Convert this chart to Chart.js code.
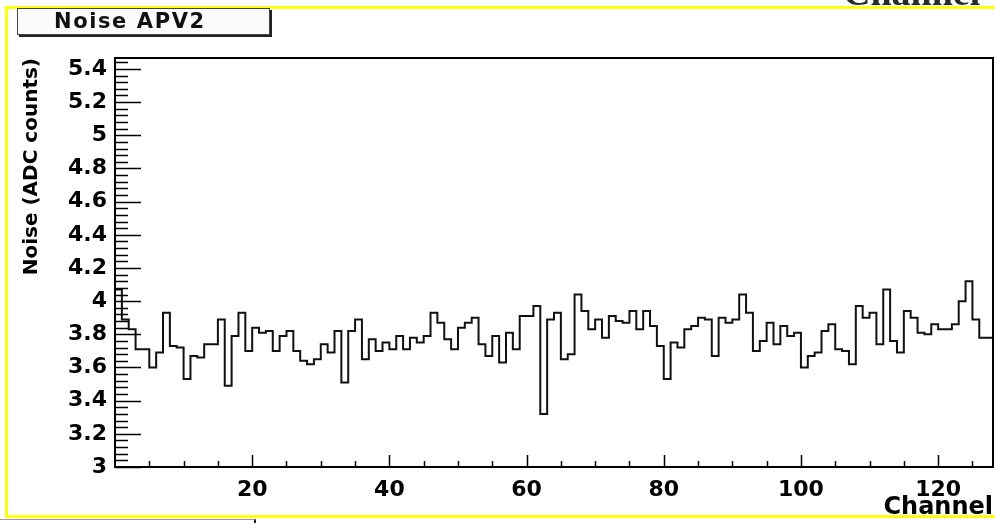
<!DOCTYPE html>
<html>
<head>
<meta charset="utf-8">
<script src="https://cdn.jsdelivr.net/npm/chart.js@4.4.0/dist/chart.umd.min.js"></script>
<style>
  html, body { margin: 0; padding: 0; background: #fff; }
  #wrap { position: relative; width: 995px; height: 523px; overflow: hidden; background: #fff; }
  #graph { position: absolute; left: 0; top: 0; }
  .yellow { position: absolute; background: #ffff10; }
  #topname {
    position: absolute; left: 843px; top: -27px;
    font: bold 38px "Liberation Serif", serif; line-height: 38px; color: #2a2a2a;
  }
  #titlebox {
    position: absolute; left: 17px; top: 8px; width: 251px; height: 25px;
    background: #fbfbfb; border: 1px solid #444; box-shadow: 2px 2px 0 #222;
  }
  #titlebox span {
    position: absolute; left: 36px; top: 0px;
    font: bold 21px "DejaVu Sans", sans-serif; letter-spacing: 1.6px; color: #111; line-height: 25px;
  }
  #statbox {
    position: absolute; left: 0; top: 519px; width: 254px; height: 10px;
    border-top: 1px solid #999; border-right: 2px solid #222;
  }
</style>
</head>
<body>
<div id="wrap">
  <canvas id="graph" width="995" height="523"></canvas>
  <div id="topname">Channel</div>
  <div class="yellow" style="left:5px; top:6px; width:990px; height:3px;"></div>
  <div class="yellow" style="left:5px; top:6px; width:3px; height:512px;"></div>
  <div class="yellow" style="left:5px; top:515px; width:990px; height:3px;"></div>
  <div id="titlebox"><span>Noise APV2</span></div>
  <div id="statbox"></div>
</div>
<script>
// noise per channel, 128 bins (channel 0..127)
const noise = [
  4.07, 3.89, 3.83, 3.71, 3.71, 3.60, 3.69, 3.93, 3.73, 3.72,
  3.53, 3.67, 3.66, 3.74, 3.74, 3.89, 3.49, 3.79, 3.93, 3.70,
  3.84, 3.81, 3.82, 3.70, 3.79, 3.82, 3.70, 3.64, 3.62, 3.65,
  3.74, 3.69, 3.82, 3.51, 3.82, 3.89, 3.65, 3.77, 3.70, 3.75,
  3.71, 3.79, 3.71, 3.78, 3.75, 3.79, 3.93, 3.87, 3.77, 3.71,
  3.84, 3.87, 3.90, 3.74, 3.67, 3.79, 3.63, 3.81, 3.71, 3.91,
  3.91, 3.97, 3.32, 3.89, 3.93, 3.65, 3.68, 4.04, 3.94, 3.83,
  3.89, 3.78, 3.91, 3.88, 3.87, 3.94, 3.83, 3.94, 3.85, 3.73,
  3.53, 3.75, 3.72, 3.83, 3.85, 3.90, 3.89, 3.67, 3.90, 3.87,
  3.89, 4.04, 3.93, 3.70, 3.76, 3.87, 3.74, 3.85, 3.79, 3.81,
  3.60, 3.67, 3.69, 3.82, 3.86, 3.71, 3.70, 3.62, 3.97, 3.90,
  3.93, 3.74, 4.07, 3.76, 3.69, 3.94, 3.90, 3.81, 3.80, 3.86,
  3.83, 3.83, 3.86, 4.00, 4.12, 3.89, 3.78, 3.78
];
const xTicks = [20, 40, 60, 80, 100, 120];
const yTicks = [3, 3.2, 3.4, 3.6, 3.8, 4, 4.2, 4.4, 4.6, 4.8, 5, 5.2, 5.4];
const xRange = [0, 128];
const yRange = [3, 5.466];

// histogram steps: left edge of every bin, plus the closing edge
let points = noise.map((v, i) => ({ x: xRange[0] + i, y: v }));
points.push({ x: xRange[1], y: noise[noise.length - 1] });

const labelFont = { family: 'DejaVu Sans', size: 22, weight: 'bold' };

// frame + ROOT style inward ticks (5 minor divisions per major on y, 4 on x)
const framePlugin = {
  id: 'frame',
  afterDatasetsDraw(chart) {
    const ctx = chart.ctx;
    const a = chart.chartArea;
    const xs = chart.scales.x, ys = chart.scales.y;
    ctx.save();
    ctx.strokeStyle = '#000';
    ctx.lineWidth = 1.5;
    ctx.beginPath();
    for (let k = 0; yRange[0] + k * 0.04 <= yRange[1]; k++) {
      const y = Math.round(ys.getPixelForValue(yRange[0] + k * 0.04)) + 0.5;
      const len = (k % 5 === 0) ? 26 : 13;
      ctx.moveTo(a.left, y);
      ctx.lineTo(a.left + len, y);
    }
    for (let k = 1; k * 5 < xRange[1]; k++) {
      const x = Math.round(xs.getPixelForValue(k * 5)) + 0.5;
      const len = (k % 4 === 0) ? 12 : 6;
      ctx.moveTo(x, a.bottom);
      ctx.lineTo(x, a.bottom - len);
    }
    ctx.stroke();
    ctx.lineWidth = 2;
    ctx.strokeRect(a.left, a.top, a.right - a.left, a.bottom - a.top);
    ctx.restore();
  }
};

const ctx = document.getElementById('graph').getContext('2d');
const chart = new Chart(ctx, {
  type: 'line',
  data: {
    datasets: [{
      label: 'Noise APV2',
      data: points,
      stepped: 'before',
      borderColor: '#111',
      borderWidth: 2,
      pointRadius: 0,
      fill: false
    }]
  },
  options: {
    responsive: false,
    animation: false,
    devicePixelRatio: 1,
    layout: { padding: { top: 58, right: 2, left: 0, bottom: 0 } },
    plugins: { legend: { display: false }, tooltip: { enabled: false } },
    scales: {
      x: {
        type: 'linear', min: xRange[0], max: xRange[1],
        afterFit(scale) { scale.height = 56; },
        afterBuildTicks(scale) { scale.ticks = xTicks.map(v => ({ value: v })); },
        grid: { display: false, drawTicks: false },
        border: { display: false },
        ticks: { color: '#000', font: labelFont, padding: 10, maxRotation: 0, autoSkip: false },
        title: {
          display: true, text: 'Channel', align: 'end', color: '#000',
          font: { family: 'DejaVu Sans', size: 24, weight: 'bold' },
          padding: { top: 0, bottom: 1 }
        }
      },
      y: {
        type: 'linear', min: yRange[0], max: yRange[1],
        afterFit(scale) { scale.width = 115; },
        afterBuildTicks(scale) { scale.ticks = yTicks.map(v => ({ value: v })); },
        grid: { display: false, drawTicks: false },
        border: { display: false },
        ticks: {
          color: '#000', font: labelFont, padding: 8, autoSkip: false,
          callback: v => String(+v.toFixed(1))
        },
        title: {
          display: true, text: 'Noise (ADC counts)', align: 'end', color: '#000',
          font: { family: 'DejaVu Sans', size: 20, weight: 'bold' },
          padding: { top: 20, bottom: 0 }
        }
      }
    }
  },
  plugins: [framePlugin]
});
</script>
</body>
</html>
